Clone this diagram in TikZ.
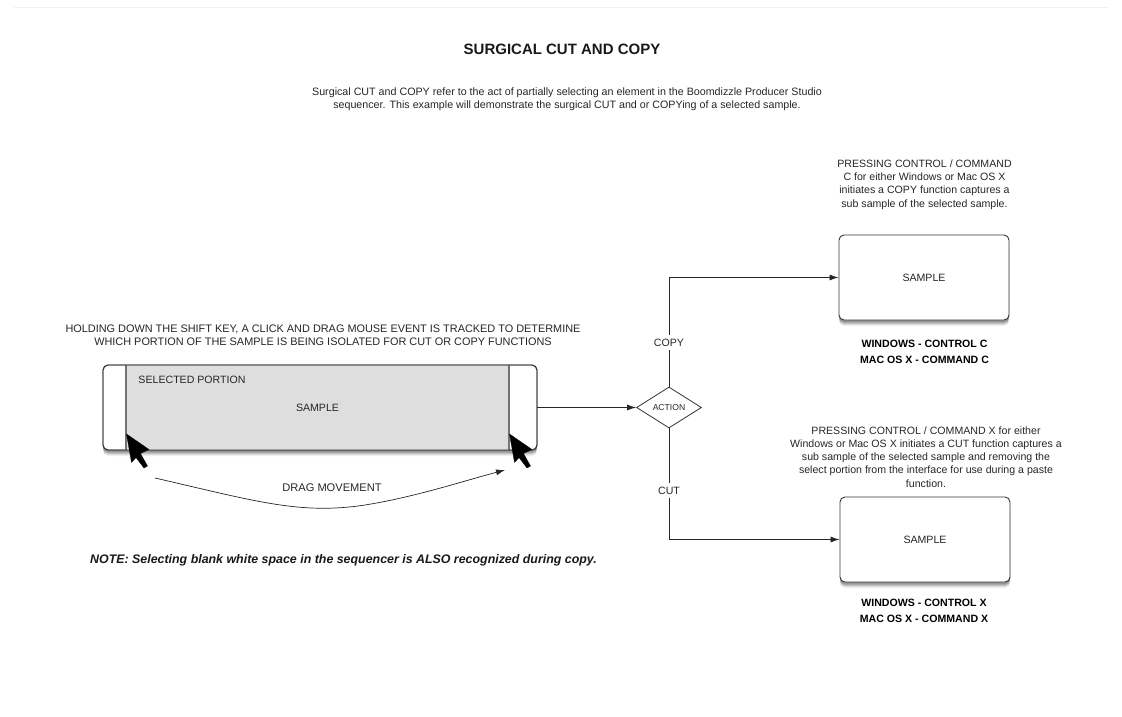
\documentclass[tikz,border=0pt]{standalone}
\usepackage{fontspec}
\setmainfont{Liberation Sans}
\usetikzlibrary{arrows.meta,shapes.geometric}
\definecolor{selgrey}{HTML}{DEDEDE}
\tikzset{
  softshadow/.style={
    preaction={draw=none,fill=black,fill opacity=.13,transform canvas={yshift=-2pt},rounded corners=5pt},
    preaction={draw=none,fill=black,fill opacity=.13,transform canvas={yshift=-3pt},rounded corners=5pt},
    preaction={draw=none,fill=black,fill opacity=.12,transform canvas={yshift=-4pt},rounded corners=5pt},
    preaction={draw=none,fill=black,fill opacity=.08,transform canvas={yshift=-5pt},rounded corners=5pt},
    preaction={draw=none,fill=black,fill opacity=.05,transform canvas={yshift=-6pt},rounded corners=5pt}},
  samplebox/.style={rectangle,rounded corners=5pt,draw=black!80,line width=.9pt,fill=white,minimum width=170pt,minimum height=85pt,font=\fontsize{10.6}{12}\selectfont,text=black!85,softshadow},
  txt/.style={font=\fontsize{10.6}{13.2}\selectfont,align=center,text=black!85,inner sep=0pt},
  boldtxt/.style={font=\fontsize{10.6}{16}\selectfont\bfseries,align=center,inner sep=0pt},
  lbl/.style={txt,fill=white,inner xsep=1pt,inner ysep=4pt},
  conn/.style={draw=black!85,line width=.8pt,-{Latex[length=9pt,width=6pt]}},
  divider/.style={draw=black!55,line width=1.1pt},
  cursor/.style={fill=black,draw=black,line width=.3pt,line join=round}
}
\begin{document}
\begin{tikzpicture}[x=1pt,y=-1pt]
\useasboundingbox (0,0) rectangle (1122,717);
\draw[black!5,line width=.6pt] (14,7) -- (1108,7);
\node[font=\fontsize{15}{17}\selectfont\bfseries,text=black!90,inner sep=0pt] (title) at (562,49.5) {SURGICAL CUT AND COPY};
\node[txt,font=\fontsize{10.7}{13.2}\selectfont] (intro) at (567,99.5) {Surgical CUT and COPY refer to the act of partially selecting an element in the Boomdizzle Producer Studio\\sequencer. This example will demonstrate the surgical CUT and or COPYing of a selected sample.};
\node[txt] (copytxt) at (924.5,184.5) {PRESSING CONTROL / COMMAND\\C for either Windows or Mac OS X\\initiates a COPY function captures a\\sub sample of the selected sample.};
\node[txt,font=\fontsize{10.9}{13.2}\selectfont] (holdtxt) at (323,335.5) {HOLDING DOWN THE SHIFT KEY, A CLICK AND DRAG MOUSE EVENT IS TRACKED TO DETERMINE\\WHICH PORTION OF THE SAMPLE IS BEING ISOLATED FOR CUT OR COPY FUNCTIONS};
\node[txt] (cuttxt) at (926,457) {PRESSING CONTROL / COMMAND X for either\\Windows or Mac OS X initiates a CUT function captures a\\sub sample of the selected sample and removing the\\select portion from the interface for use during a paste\\function.};

% main sample
\node[samplebox,minimum width=434pt] (main) at (320,407.5) {};
\fill[selgrey] (126,365.5) rectangle (509,450);
\draw[divider] (126,365) -- (126,450);
\draw[divider] (509,365) -- (509,450);
\draw[rounded corners=5pt,draw=black!80,line width=.9pt] (103,365) rectangle (537,450);
\node[txt] (selected) at (192,379.5) {SELECTED PORTION};
\node[txt] (sampletxt) at (317.5,407.5) {SAMPLE};

% cursors
\coordinate (cur1) at (126.5,434);
\coordinate (cur2) at (509.5,434);
\foreach \c in {cur1,cur2}{
  \fill[cursor,shift={(\c)}] (0,0) -- (22.5,15.5) -- (14,19.5) -- (21,32) -- (17.5,34) -- (9.5,23.5) -- (5,28.5) -- cycle;
}

% drag
\coordinate (dragstart) at (155,478);
\coordinate (dragend) at (505,470);
\draw[conn,line width=.7pt] (dragstart) .. controls (255,501) and (300,515) .. (365,505) .. controls (415,497) and (460,482) .. (dragend);
\node[txt,font=\fontsize{11.1}{13}\selectfont] (drag) at (332,487.5) {DRAG MOVEMENT};

% diamond
\node[draw=black!80,line width=.8pt,diamond,aspect=1.6,minimum width=65pt,minimum height=41pt,inner sep=0pt,text=black!85,font=\fontsize{8.6}{10}\selectfont] (action) at (669,407.5) {ACTION};

% right boxes
\node[samplebox] (copybox) at (924,277.5) {SAMPLE};
\node[samplebox] (cutbox) at (925,539.5) {SAMPLE};
\node[boldtxt] (copykeys) at (924.5,351.5) {WINDOWS - CONTROL C\\MAC OS X - COMMAND C};
\node[boldtxt] (cutkeys) at (924,610.5) {WINDOWS - CONTROL X\\MAC OS X - COMMAND X};

% connectors
\draw[conn] (main.east) -- (action.west);
\draw[conn] (action.north) |- (copybox.west);
\draw[conn] (action.south) |- (cutbox.west);
\node[lbl] (copylbl) at (669,342.5) {COPY};
\node[lbl] (cutlbl) at (669,490.5) {CUT};

\node[font=\fontsize{12.4}{14}\selectfont\bfseries\itshape,text=black!90,inner sep=0pt] (note) at (343.5,560.5) {NOTE: Selecting blank white space in the sequencer is ALSO recognized during copy.};
\end{tikzpicture}
\end{document}
